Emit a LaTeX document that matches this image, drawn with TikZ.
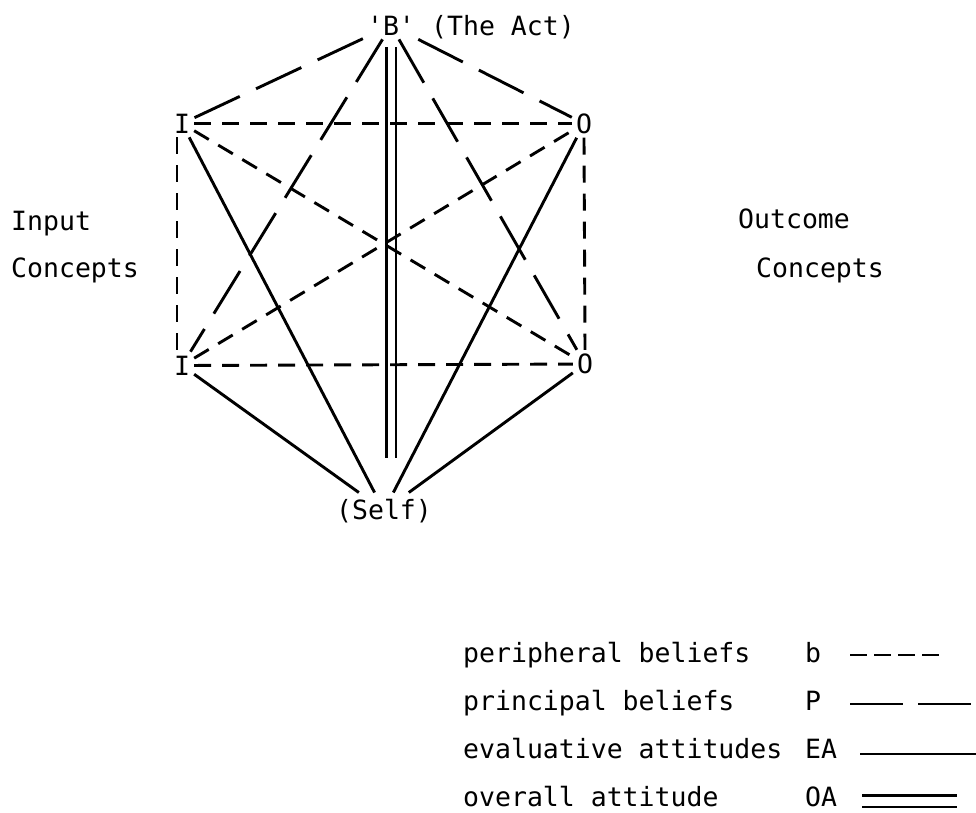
\documentclass[tikz,border=0pt]{standalone}
\usepackage{fontspec}
\setmonofont{DejaVu Sans Mono}
\usetikzlibrary{calc}

\begin{document}
\begin{tikzpicture}[
    x=1pt, y=-1pt,
    concept/.style={font=\ttfamily\fontsize{26.5}{30}\selectfont, inner sep=4pt},
    txt/.style={font=\ttfamily\fontsize{26.5}{30}\selectfont, inner sep=0pt},
    bline/.style={line width=2.9pt, dash pattern=on 17pt off 11pt},
    pline/.style={line width=2.9pt, dash pattern=on 50pt off 18pt},
    ealine/.style={line width=2.9pt},
    oaline/.style={double, line width=2.6pt, double distance=7pt}
]
\useasboundingbox (0,0) rectangle (976,812);

\node[concept]                (B)    at (391, 25.5) {\textquotesingle B\textquotesingle};
\node[txt, anchor=base west]  (act)  at (431, 35)   {(The Act)};

\node[concept] (It) at (182, 123.5) {I};
\node[concept] (Ib) at (182, 365.5) {I};
\node[concept] (Ot) at (584, 123.5) {O};
\node[concept] (Ob) at (585, 364)   {O};

\node[concept, anchor=base, inner sep=6pt] (self) at (384, 519) {(Self)};

\node[txt, anchor=base west] (input)  at (11, 230)  {Input};
\node[txt, anchor=base west] (inconc) at (11, 277)  {Concepts};
\node[txt, anchor=base west] (output) at (738, 228) {Outcome};
\node[txt, anchor=base west] (outconc) at (756, 277) {Concepts};

% Overall attitude first, so the other lines cross over it
\draw[oaline, shorten <=8pt, shorten >=35pt] (B.south) -- (B.south |- self.north);

% Principal beliefs
\draw[pline] (B) -- (It);
\draw[pline] (B) -- (Ot);
\draw[pline] (B) -- (Ib);
\draw[pline] (B) -- (Ob);

% Peripheral beliefs
\draw[bline] (It) -- (Ot);
\draw[bline] (Ib) -- (Ob);
\draw[bline] ([xshift=-5pt]It.south) -- ([xshift=-5pt]Ib.north);
\draw[bline] (Ot.south) -- (Ob.north);
\draw[bline] (It) -- (Ob);
\draw[bline] (Ib) -- (Ot);

% Evaluative attitudes
\draw[ealine] (It) -- (self);
\draw[ealine] (Ib) -- (self);
\draw[ealine] (Ot) -- (self);
\draw[ealine] (Ob) -- (self);

% Legend
\node[txt, anchor=base west] (kb)  at (463, 662) {peripheral beliefs};
\node[txt, anchor=base west] (kp)  at (463, 710) {principal beliefs};
\node[txt, anchor=base west] (kea) at (463, 758) {evaluative attitudes};
\node[txt, anchor=base west] (koa) at (463, 806) {overall attitude};

\node[txt, anchor=base west] (sb)  at (805, 662) {b};
\node[txt, anchor=base west] (sp)  at (805, 710) {P};
\node[txt, anchor=base west] (sea) at (805, 758) {EA};
\node[txt, anchor=base west] (soa) at (805, 806) {OA};

\coordinate (b1)  at (850, 655);  \coordinate (b2)  at (939, 655);
\coordinate (p1)  at (850, 704);  \coordinate (p2)  at (976, 704);
\coordinate (ea1) at (860, 754);  \coordinate (ea2) at (976, 754);
\coordinate (oa1) at (862, 801);  \coordinate (oa2) at (957, 801);

\draw[bline, dash pattern=on 17pt off 7pt] (b1) -- (b2);
\draw[pline, dash pattern=on 53pt off 15pt] (p1) -- (p2);
\draw[ealine] (ea1) -- (ea2);
\draw[oaline, double distance=9pt] (oa1) -- (oa2);

\end{tikzpicture}
\end{document}
